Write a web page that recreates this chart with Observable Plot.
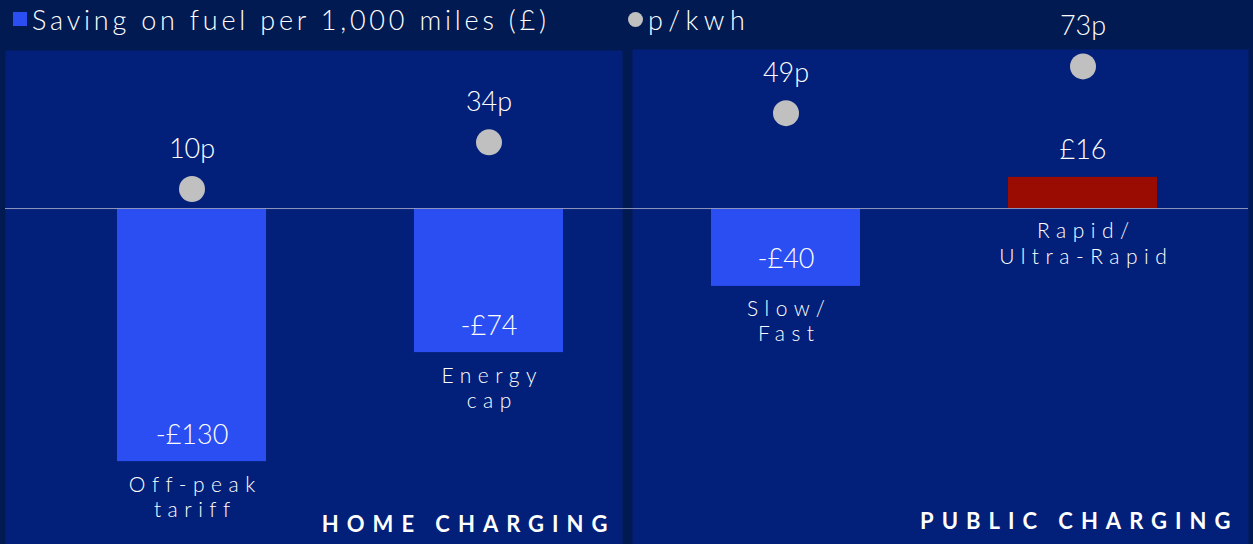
<!DOCTYPE html>
<html>
<head>
<meta charset="utf-8">
<script src="https://cdn.jsdelivr.net/npm/d3@7"></script>
<script src="https://cdn.jsdelivr.net/npm/@observablehq/plot@0.6"></script>
<style>
  html, body { margin: 0; padding: 0; background: #021a52; }
  body { width: 1253px; height: 544px; overflow: hidden; font-family: Lato, "Open Sans", sans-serif; color: #fff; }
  #legend { position: relative; height: 48px; }
  .item { position: absolute; top: 0; height: 38px; display: flex; align-items: center; font-size: 27px; font-weight: 300; letter-spacing: 3.8px; white-space: nowrap; }
  .sw { display: inline-block; width: 14px; height: 14px; background: #2b4ef2; margin-right: 5px; }
  .dotsw { display: inline-block; width: 15px; height: 15px; border-radius: 50%; background: #c0c0c0; margin-right: 5px; }
  #chart svg { overflow: visible; display: block; }
  g[aria-description="category labels"] text { letter-spacing: 6.5px; }
  g[aria-description="group labels"] text { letter-spacing: 8px; }
</style>
</head>
<body>
<div id="legend">
  <div class="item" style="left:13px"><span class="sw"></span>Saving on fuel per 1,000 miles (£)</div>
  <div class="item" style="left:628px"><span class="dotsw"></span><span style="letter-spacing:5.5px">p/kwh</span></div>
</div>
<div id="chart"></div>
<script>
// ---- data ----
const categories = ["Off-peak tariff", "Energy cap", "Slow/Fast", "Rapid/Ultra-Rapid"];
const categoryLabels = ["Off-peak\ntariff", "Energy\ncap", "Slow/\nFast", "Rapid/\nUltra-Rapid"];
const groups = ["HOME CHARGING", "HOME CHARGING", "PUBLIC CHARGING", "PUBLIC CHARGING"];
const savings = [-130, -74, -40, 16];          // £ saving on fuel per 1,000 miles
const pencePerKwh = [10, 34, 49, 73];          // p/kWh

// ---- styles ----
const BLUE = "#2b4ef2", RED = "#9a0b02", DOT = "#c0c0c0", PANEL = "#02207a", ZERO = "#8f96bd";

const data = categories.map((c, i) => ({
  category: c, label: categoryLabels[i], group: groups[i],
  saving: savings[i], pkwh: pencePerKwh[i]
}));
const fmtSaving = v => (v < 0 ? "-£" : "£") + Math.abs(v);

const chart = Plot.plot({
  width: 1253,
  height: 496,
  marginLeft: 5, marginRight: 5, marginTop: 2, marginBottom: 0,
  style: { background: "transparent", overflow: "visible", fontFamily: "Lato, 'Open Sans', sans-serif", color: "#fff" },
  x: { domain: categories, range: [27.9, 1245.6], paddingInner: 0.5, paddingOuter: 0.3, axis: null },
  y: { domain: [-170, 82.2], range: [491, 0], axis: null },
  color: { type: "identity" },
  marks: [
    Plot.frame({ fill: PANEL, stroke: "none", insetRight: 626 }),
    Plot.frame({ fill: PANEL, stroke: "none", insetLeft: 627, insetTop: -1 }),
    Plot.barY(data, { x: "category", y: "saving", fill: d => d.saving < 0 ? BLUE : RED }),
    Plot.ruleY([0], { stroke: ZERO, strokeWidth: 1 }),
    Plot.dot(data, { x: "category", y: "pkwh", r: 13, fill: DOT, stroke: "none" }),
    Plot.text(data, { x: "category", y: "pkwh", text: d => d.pkwh + "p", lineAnchor: "bottom", dy: -31, fontSize: 27, fontWeight: 300, fill: "#fff" }),
    Plot.text(data, { x: "category", y: "saving", text: d => fmtSaving(d.saving), lineAnchor: "bottom", dy: -18, fontSize: 27, fontWeight: 300, fill: "#fff" }),
    Plot.text(data, { x: "category", y: d => Math.min(d.saving, 0), text: "label", lineAnchor: "top", dy: 12, dx: 3.25, lineHeight: 1.2, fontSize: 21, fontWeight: 300, fill: "#fff", ariaDescription: "category labels" }),
    Plot.text([groups[0]], { text: d => d, frameAnchor: "bottom-right", textAnchor: "end", lineAnchor: "bottom", dx: -633, dy: -13, fontSize: 22, fontWeight: "bold", fill: "#fff", ariaDescription: "group labels" }),
    Plot.text([groups[2]], { text: d => d, frameAnchor: "bottom-right", textAnchor: "end", lineAnchor: "bottom", dx: -10, dy: -16, fontSize: 22, fontWeight: "bold", fill: "#fff", ariaDescription: "group labels" })
  ]
});
document.getElementById("chart").appendChild(chart);
</script>
</body>
</html>
